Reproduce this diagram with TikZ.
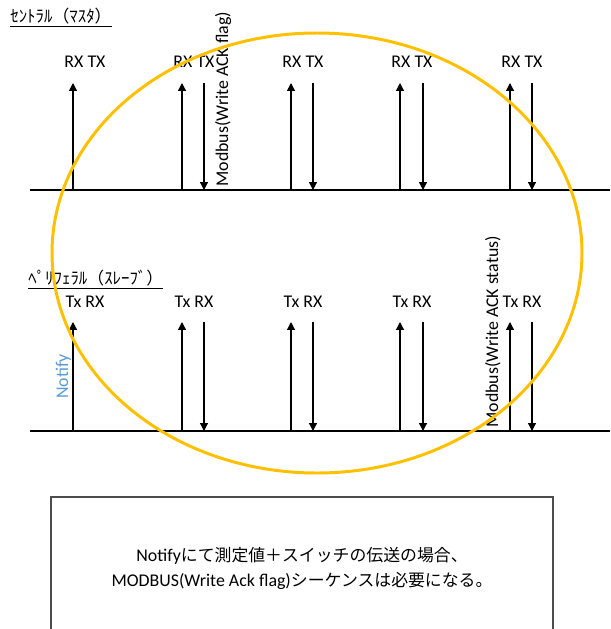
\documentclass[tikz,border=0pt]{standalone}
\usepackage{fontspec}
\setmainfont{Carlito}[Scale=1.06]
\newfontfamily\jpfont{Noto Sans CJK JP}
\usetikzlibrary{arrows.meta}
\definecolor{notifyblue}{HTML}{5B9BD5}
\definecolor{markyellow}{HTML}{FFC000}
\tikzset{
  sig/.style = {line width=0.7pt, -{Triangle[width=4.5pt,length=4.5pt]}},
  lbl/.style = {inner sep=0pt, font=\fontsize{9.6}{14.2}\selectfont},
}

\begin{document}
\begin{tikzpicture}[x=0.02cm, y=-0.02cm]
    \useasboundingbox (0,0) rectangle (610,629);
    % master / slave time lines
    \coordinate (mL) at (30,190);
    \coordinate (mR) at (610,190);
    \coordinate (sL) at (30,431);
    \coordinate (sR) at (610,431);
    \draw [line width=0.7pt] (mL) -- (mR);
    \draw [line width=0.7pt] (sL) -- (sR);
    \node [lbl, anchor=west] (mtitle) at (10,18) {\jpfont\underline{ｾﾝﾄﾗﾙ（ﾏｽﾀ）}};
    \node [lbl, anchor=west] (stitle) at (28,280) {\jpfont\underline{ﾍﾟﾘﾌｪﾗﾙ（ｽﾚｰﾌﾞ）}};
    % up arrows (master RX / slave Tx)
    \foreach \x [count=\i] in {73,182,291,400,510} {
      \node [lbl] (mlbl\i) at (\x+12,62) {RX TX};
      \node [lbl] (slbl\i) at (\x+12,302) {Tx RX};
      \coordinate (mfoot\i) at (\x,190);
      \coordinate (mhead\i) at (\x,83);
      \coordinate (sfoot\i) at (\x,431);
      \coordinate (shead\i) at (\x,322);
      \draw [sig] (mfoot\i) -- (mhead\i);
      \draw [sig] (sfoot\i) -- (shead\i);
    }
    % down arrows (master TX / slave RX)
    \foreach \x [count=\i from 2] in {204,313,423,532} {
      \coordinate (mtx\i) at (\x,83);
      \coordinate (mend\i) at (\x,190);
      \coordinate (srx\i) at (\x,322);
      \coordinate (send\i) at (\x,431);
      \draw [sig] (mtx\i) -- (mend\i);
      \draw [sig] (srx\i) -- (send\i);
    }
    \node [lbl, rotate=90, anchor=base west] (ackflag) at (228,187) {Modbus(Write ACK flag)};
    \node [lbl, rotate=90, anchor=base west] (ackstatus) at (498,428) {Modbus(Write ACK status)};
    \node [lbl, rotate=90, anchor=base west, text=notifyblue] (notify) at (68,399) {Notify};
    %\draw [dashed] (ackflag.south) -- (ackstatus.north);
    \draw [markyellow, line width=1.7pt] (317,253) ellipse [x radius=265, y radius=220];
    % note box
    \draw [black!70, line width=0.7pt] (51,640) |- (553,497) -- (553,640);
    \node [lbl, align=center] (note) at (302,568) {Notify{\jpfont にて測定値＋スイッチの伝送の場合、}\\MODBUS(Write Ack flag){\jpfont シーケンスは必要になる。}};
\end{tikzpicture}
\end{document}
